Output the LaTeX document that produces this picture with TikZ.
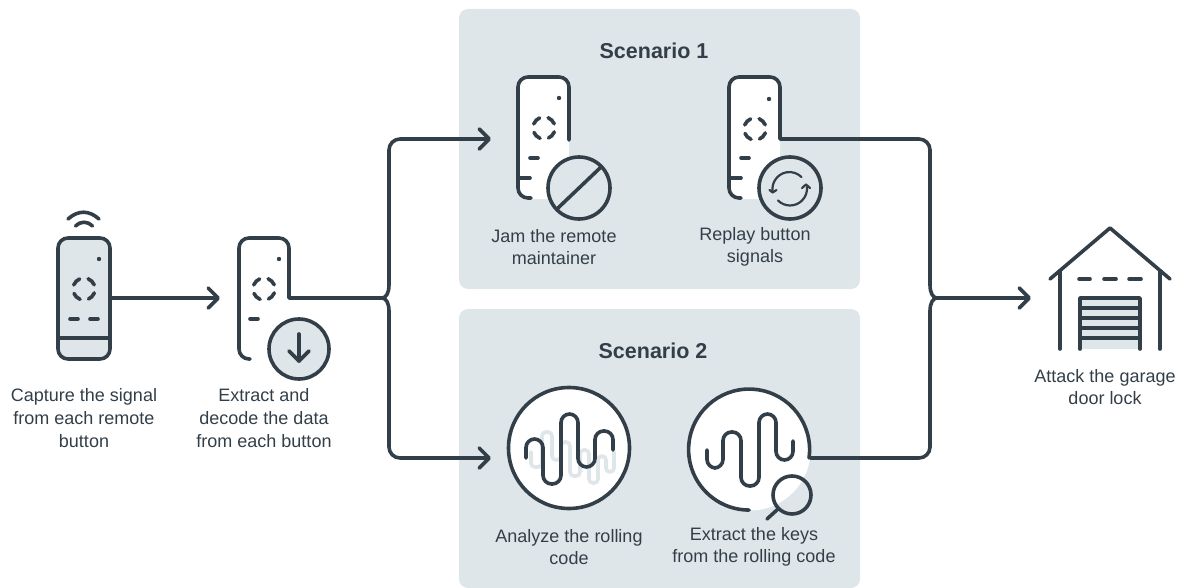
\documentclass[tikz,border=0pt]{standalone}
\usepackage{fontspec}
\usepackage{xcolor}
\setmainfont{Liberation Sans}
\newfontfamily\headfont{Liberation Sans Bold}
\usetikzlibrary{arrows.meta}
\definecolor{vslate}{HTML}{333F48}
\definecolor{vpanel}{HTML}{DFE6E9}
\tikzset{
	panel/.style={fill=vpanel, draw=none, rounded corners=9pt},
	icon/.style={color=vslate, line width=3.6pt, line cap=round, line join=round},
	ring/.style={icon, dash pattern=on 8.6pt off 8.68pt, dash phase=12.94pt},
	wave/.style={icon, rounded corners=8.6pt},
	paleline/.style={color=vpanel, line width=3.6pt, line cap=round, rounded corners=4pt},
	loopline/.style={color=vslate, line width=2.2pt, line cap=round, line join=round},
	wire/.style={color=vslate, line width=3.6pt, line join=round},
	tip/.style={-{Straight Barb[length=10pt,width=20pt,line cap=round,line join=round]}},
	caption/.style={color=vslate, align=center, inner sep=0pt, font=\fontsize{18}{22.6}\selectfont},
	heading/.style={color=vslate, inner sep=0pt, font=\headfont\fontsize{21.5}{26}\selectfont},
}
\begin{document}
\begin{tikzpicture}[x=1pt, y=-1pt]
		\useasboundingbox (0,0) rectangle (1182,588);
		\fill[panel] (459,9) rectangle (860,289);
		\fill[panel] (459,309) rectangle (860,588);
		\node[heading] (scenarioA) at (654,51) {Scenario 1};
		\node[heading] (scenarioB) at (653,351) {Scenario 2};

		\coordinate (captureOut) at (110,298);
		\coordinate (extractIn) at (220,298);
		\coordinate (extractOut) at (289,298);
		\coordinate (forkIn) at (382,298);
		\coordinate (jamIn) at (491,139);
		\coordinate (analyzeIn) at (491,458);
		\coordinate (replayOut) at (780,139);
		\coordinate (keysOut) at (809,458);
		\coordinate (mergeOut) at (937,298);
		\coordinate (garageIn) at (1031,298);

		\draw[icon, fill=vpanel, rounded corners=10pt] (58,238) rectangle (110,359);
		\draw[icon] (58,338) -- (110,338);
		\draw[ring] (84,289) circle (11pt);
		\draw[icon] (70,319) -- (78,319);
		\draw[icon] (90,319) -- (98,319);
		\fill[vslate] (99,259) circle (2.2pt);
		\draw[icon] (68,219) .. controls (78,210) and (89,210) .. (99,219);
		\draw[icon] (75.5,226) .. controls (80,221) and (88,221) .. (92.5,226);
		\draw[wire, tip] (captureOut) -- (extractIn);

		\draw[icon, rounded corners=10pt] (250,359) -- (239,359) -- (239,238) -- (289,238) -- (extractOut);
		\draw[ring] (264,289) circle (11pt);
		\draw[icon] (250,319) -- (258,319);
		\fill[vslate] (279,259) circle (2.2pt);
		\draw[icon, fill=vpanel] (299,349) circle (30pt);
		\draw[icon] (299,334) -- (299,361);
		\draw[icon] (289,351) -- (299,361) -- (309,351);

		\draw[wire] (extractOut) -- (forkIn);
		\draw[wire] (forkIn) .. controls (386,298) and (389,293) .. (389,285);
		\draw[wire] (forkIn) .. controls (386,298) and (389,303) .. (389,311);
		\draw[wire, tip, rounded corners=11pt] (389,285) -- (389,139) -- (jamIn);
		\draw[wire, tip, rounded corners=11pt] (389,311) -- (389,458) -- (analyzeIn);

		\fill[white, rounded corners=10pt] (518,77) rectangle (569,199);
		\draw[icon, rounded corners=10pt] (531,198) -- (518,198) -- (518,77) -- (569,77) -- (569,140);
		\draw[ring] (544,128) circle (11pt);
		\draw[icon] (530,158) -- (538,158);
		\draw[icon] (518,178) -- (530,178);
		\fill[vslate] (559,98) circle (2.2pt);
		\draw[icon, fill=vpanel] (579,188) circle (31pt);
		\draw[icon] (600,168) -- (558,208);

		\fill[white, rounded corners=10pt] (729,77) rectangle (780,199);
		\draw[icon, rounded corners=10pt] (741,198) -- (729,198) -- (729,77) -- (780,77) -- (replayOut);
		\draw[ring] (755,129) circle (11pt);
		\draw[icon] (741,158) -- (749,158);
		\draw[icon] (729,178) -- (741,178);
		\fill[vslate] (769,99) circle (2.2pt);
		\draw[icon, fill=vpanel] (790,188) circle (31pt);
		\draw[loopline] (772.7,192) arc (190:45:17pt);
		\draw[loopline] (769.5,190) -- (772.7,192.5) -- (776.5,190);
		\draw[loopline] (778,200.5) arc (-135:5:17pt);
		\draw[loopline] (802,188) -- (806,184.5) -- (810,188);

		\draw[wire, rounded corners=11pt] (replayOut) -- (930,139) -- (930,285);
		\draw[wire] (930,285) .. controls (930,293) and (933,298) .. (mergeOut);
		\draw[wire, rounded corners=11pt] (keysOut) -- (930,458) -- (930,311);
		\draw[wire] (930,311) .. controls (930,303) and (933,298) .. (mergeOut);
		\draw[wire, tip] (mergeOut) -- (garageIn);

		\draw[icon, fill=white] (569,448) circle (60.5pt);
		\draw[paleline] (531,452) -- (531,467) -- (542,467) -- (542,432) -- (552,432) -- (552,460) -- (561,460) -- (561,442) -- (570,442) -- (570,476) -- (580,476) -- (580,450) -- (589,450) -- (589,483) -- (598,483) -- (598,456) -- (606,456) -- (606,472) -- (614,472) -- (614,452);
		\draw[wave] (526,458) -- (526,439) -- (543,439) -- (543,484) -- (561,484) -- (561,414) -- (578,414) -- (578,467) -- (595,467) -- (595,431) -- (613,431) -- (613,450);

		\fill[white] (750,450) circle (60.5pt);
		\draw[icon] (keysOut) arc (-8:270:60.5pt);
		\draw[wave] (707,450) -- (707,468) -- (723,468) -- (723,432) -- (741,432) -- (741,486) -- (759,486) -- (759,414) -- (776,414) -- (776,460) -- (793,460) -- (793,441);
		\draw[icon] (792,495) circle (19pt);
		\draw[icon] (778,509) -- (767,519);

		\draw[icon] (1050,279) -- (1110,228) -- (1170,279);
		\draw[icon] (1060,271) -- (1060,349);
		\draw[icon] (1160,271) -- (1160,349);
		\draw[icon] (1079,279) -- (1090,279);
		\draw[icon] (1104,279) -- (1116,279);
		\draw[icon] (1129,279) -- (1141,279);
		\fill[vpanel] (1080,298) rectangle (1140,349);
		\draw[icon] (1080,349) -- (1080,298) -- (1140,298) -- (1140,349);
		\draw[icon] (1080,308) -- (1140,308);
		\draw[icon] (1080,318) -- (1140,318);
		\draw[icon] (1080,328) -- (1140,328);
		\draw[icon] (1080,338) -- (1140,338);

		\node[caption] (captureText) at (84,418) {Capture the signal\\from each remote\\button};
		\node[caption] (extractText) at (264,418) {Extract and\\decode the data\\from each button};
		\node[caption] (jamText) at (554,247) {Jam the remote\\maintainer};
		\node[caption] (replayText) at (755,247) {Replay button\\signals};
		\node[caption] (analyzeText) at (569,547) {Analyze the rolling\\code};
		\node[caption] (keysText) at (754,547) {Extract the keys\\from the rolling code};
		\node[caption] (garageText) at (1105,387) {Attack the garage\\door lock};
	\end{tikzpicture}
\end{document}
